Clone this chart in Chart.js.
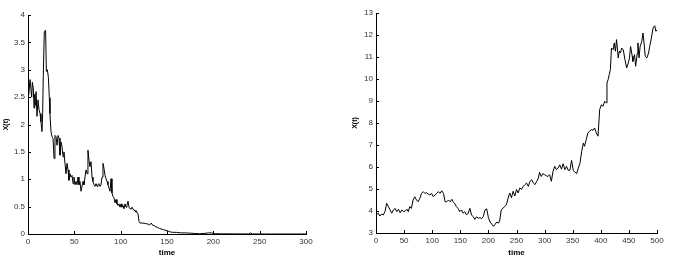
<!DOCTYPE html>
<html>
<head>
<meta charset="utf-8">
<script src="https://cdn.jsdelivr.net/npm/chart.js@4"></script>
<style>
    body { margin: 0; background: #fff; width: 679px; height: 274px; position: relative; overflow: hidden; }
    canvas { position: absolute; top: 0; }
    #leftChart { left: 0; }
    #rightChart { left: 340px; }
</style>
</head>
<body>
<canvas id="leftChart" width="330" height="274"></canvas>
<canvas id="rightChart" width="339" height="274"></canvas>
<script>
// Left panel: decaying path
const leftTime = [
    0, 0.7, 2.2, 4, 4.7, 5.8, 6.5, 7.2, 8.3, 8.6,
    9.7, 10.8, 11.9, 13, 14, 15.1, 15.8, 16.5, 17.6, 19,
    19.8, 20.9, 22, 23, 23.7, 24.8, 25.9, 27, 28.1, 29.1,
    30.2, 31.3, 32.4, 33.5, 34.5, 35.6, 36.7, 37.8, 38.8, 39.9,
    41, 42.1, 43.2, 44.2, 45.3, 46.4, 47.5, 48.6, 49.6, 50.7,
    51.8, 52.9, 54, 55, 56.1, 57.2, 58.3, 59.4, 60.4, 61.5,
    62.6, 63.7, 64.7, 65.8, 66.9, 68, 69.1, 70.1, 71.2, 72.3,
    73.4, 74.5, 75.5, 76.6, 77.7, 78.8, 79.9, 80.9, 82, 83.1,
    84.2, 85.3, 86.3, 87.4, 88.5, 89.6, 90.6, 91.7, 92.8, 93.9,
    95, 96, 97.1, 98.2, 99.3, 100.4, 101.4, 102.5, 103.6, 104.7,
    105.8, 106.8, 107.9, 109, 110.1, 111.2, 112.2, 113.3, 114.4, 115.5,
    116.5, 117.6, 118.7, 119.8, 120.9, 124, 127, 130, 131, 133,
    135, 136, 138, 140, 142, 146, 150, 153, 156, 160,
    165, 170, 175, 180, 185, 190, 195, 198, 202, 210,
    220, 230, 238, 240, 242, 250, 300
];
const leftX = [
    2.7, 2.55, 2.82, 2.5, 2.77, 2.65, 2.3, 2.55, 2.35, 2.6,
    2.15, 2.45, 2.27, 2.2, 2.05, 1.87, 2.2, 2.9, 3.7, 3.72,
    2.97, 3.0, 2.86, 2.49, 2.2, 1.87, 1.78, 1.75, 1.38, 1.8,
    1.78, 1.62, 1.8, 1.75, 1.44, 1.68, 1.6, 1.41, 1.5, 1.29,
    1.1, 1.29, 1.17, 0.98, 1.1, 1.04, 1.07, 0.92, 1.04, 0.9,
    0.96, 0.9, 1.04, 0.9, 0.96, 0.78, 0.87, 0.96, 0.9, 1.04,
    1.17, 1.1, 1.53, 1.35, 1.23, 1.32, 1.04, 0.96, 0.9, 0.87,
    0.92, 0.87, 0.9, 0.92, 0.87, 0.9, 1.04, 1.29, 1.2, 1.07,
    1.01, 0.96, 0.9, 0.84, 0.78, 1.01, 0.75, 0.69, 0.66, 0.57,
    0.63, 0.55, 0.52, 0.55, 0.49, 0.55, 0.49, 0.52, 0.46, 0.55,
    0.49, 0.52, 0.6, 0.49, 0.46, 0.46, 0.49, 0.46, 0.43, 0.43,
    0.4, 0.4, 0.37, 0.23, 0.2, 0.2, 0.19, 0.18, 0.16, 0.2,
    0.15, 0.16, 0.13, 0.12, 0.1, 0.08, 0.06, 0.04, 0.03, 0.03,
    0.02, 0.02, 0.015, 0.01, 0.005, 0.01, 0.02, 0.02, 0.005, 0.003,
    0.002, 0.001, 0.001, 0.02, 0.001, 0, 0
];
const leftXTicks = [0, 50, 100, 150, 200, 250, 300];
const leftYTicks = [0, 0.5, 1, 1.5, 2, 2.5, 3, 3.5, 4];

// Right panel: growing path
const rightTime = [
    0, 4, 7, 10, 13, 16, 19, 22, 25, 28,
    31, 34, 37, 40, 43, 46, 49, 52, 55, 57.5,
    60, 63, 66, 69, 72, 75, 78, 81, 84, 87,
    90, 93, 96, 99, 102, 105, 108, 111, 114, 117,
    120, 123, 126, 129, 132, 135, 137, 140, 143, 146,
    149, 152, 155, 158, 161, 164, 167, 170, 173, 176,
    179, 182, 185, 188, 191, 194, 197, 200, 203, 206,
    209, 212, 215, 218, 220, 223, 226, 229, 232, 235,
    238, 241, 244, 247, 250, 253, 256, 259, 262, 265,
    268, 271, 274, 277, 280, 283, 286, 289, 291, 294,
    297, 300, 303, 306, 309, 312, 315, 318, 321, 324,
    327, 330, 333, 336, 339, 342, 345, 348, 351, 354,
    357, 360, 363, 366, 369, 371, 374, 377, 380, 383,
    386, 389, 392, 395, 398, 401, 404, 407, 410, 411,
    413, 415, 417, 419, 422, 424, 426, 428, 431, 433,
    435, 437, 440, 443, 446, 449, 451, 453, 456, 457,
    460, 462, 465, 466, 468, 470, 473, 475, 477, 479,
    482, 485, 487, 490, 493, 496, 498, 500
];
const rightX = [
    3.82, 3.9, 3.77, 3.86, 3.82, 3.97, 4.35, 4.2, 4.05, 3.9,
    4.05, 4.12, 3.97, 4.08, 3.92, 4.05, 3.97, 4.0, 4.08, 3.97,
    4.2, 4.12, 4.5, 4.65, 4.5, 4.42, 4.58, 4.8, 4.88, 4.8,
    4.83, 4.77, 4.73, 4.8, 4.65, 4.73, 4.8, 4.88, 4.8, 4.92,
    4.8, 4.42, 4.42, 4.5, 4.42, 4.53, 4.42, 4.35, 4.2, 4.12,
    3.97, 4.05, 3.9, 3.97, 3.82, 3.9, 4.12, 3.82, 3.74, 3.62,
    3.74, 3.67, 3.7, 3.65, 3.75, 4.05, 4.1, 3.7, 3.5, 3.4,
    3.3, 3.4, 3.5, 3.45, 3.55, 4.06, 4.13, 4.2, 4.28, 4.58,
    4.82, 4.6, 4.9, 4.68, 4.98, 4.82, 5.05, 4.98, 5.12, 5.2,
    5.27, 5.12, 5.35, 5.42, 5.27, 5.2, 5.35, 5.5, 5.76, 5.57,
    5.7, 5.65, 5.6, 5.57, 5.65, 5.35, 5.8, 6.03, 5.88, 5.95,
    6.1, 5.9, 6.15, 5.88, 6.03, 5.85, 5.85, 6.3, 5.85, 5.76,
    5.7, 5.95, 6.18, 6.71, 7.09, 6.94, 7.24, 7.55, 7.62, 7.7,
    7.67, 7.77, 7.55, 7.4, 8.61, 8.83, 8.76, 8.99, 8.91, 9.82,
    9.97, 10.2, 10.42, 11.41, 11.33, 11.64, 11.26, 11.79, 10.96, 11.26,
    11.18, 11.41, 11.33, 10.88, 10.5, 10.73, 10.96, 11.48, 11.03, 10.8,
    11.11, 10.58, 11.18, 11.64, 10.96, 11.48, 11.71, 12.09, 11.64, 11.03,
    10.96, 11.18, 11.48, 11.86, 12.32, 12.42, 12.17, 12.24
];
const rightXTicks = [0, 50, 100, 150, 200, 250, 300, 350, 400, 450, 500];
const rightYTicks = [3, 4, 5, 6, 7, 8, 9, 10, 11, 12, 13];

// MATLAB style ticks pointing into the plot
const inwardTicks = {
    id: 'inwardTicks',
    afterDraw(chart) {
        const ctx = chart.ctx;
        const area = chart.chartArea;
        const xs = chart.scales.x;
        const ys = chart.scales.y;
        ctx.save();
        ctx.strokeStyle = '#000';
        ctx.lineWidth = 1;
        ctx.beginPath();
        xs.ticks.forEach(function(t) {
            const px = Math.round(xs.getPixelForValue(t.value)) + 0.5;
            ctx.moveTo(px, area.bottom);
            ctx.lineTo(px, area.bottom - 3);
        });
        ys.ticks.forEach(function(t) {
            const py = Math.round(ys.getPixelForValue(t.value)) + 0.5;
            ctx.moveTo(area.left, py);
            ctx.lineTo(area.left + 3, py);
        });
        ctx.stroke();
        ctx.restore();
    }
};

function makeChart(id, times, values, xTicks, yTicks, box) {
    const points = times.map(function(t, i) { return { x: t, y: values[i] }; });
    return new Chart(document.getElementById(id), {
        type: 'line',
        data: {
            datasets: [{
                data: points,
                borderColor: '#000',
                borderWidth: 1,
                pointRadius: 0,
                tension: 0,
                fill: false
            }]
        },
        options: {
            responsive: false,
            animation: false,
            layout: { padding: { left: 0, top: box.top, right: box.right, bottom: 0 } },
            plugins: { legend: { display: false }, tooltip: { enabled: false } },
            scales: {
                x: {
                    type: 'linear',
                    min: xTicks[0],
                    max: xTicks[xTicks.length - 1],
                    afterBuildTicks: function(s) { s.ticks = xTicks.map(function(v) { return { value: v }; }); },
                    afterFit: function(s) { s.height = box.xHeight; },
                    grid: { display: false, drawTicks: false, tickLength: 0 },
                    border: { display: true, color: '#000', width: 1 },
                    ticks: {
                        padding: 3,
                        color: '#333',
                        font: { family: 'Liberation Sans, Arial, sans-serif', size: 8 },
                        maxRotation: 0,
                        autoSkip: false,
                        callback: function(v) { return String(v); }
                    },
                    title: {
                        display: true,
                        text: 'time',
                        color: '#000',
                        font: { family: 'Liberation Sans, Arial, sans-serif', size: 8, weight: 'bold' },
                        padding: { top: 0, bottom: 16 }
                    }
                },
                y: {
                    type: 'linear',
                    min: yTicks[0],
                    max: yTicks[yTicks.length - 1],
                    afterBuildTicks: function(s) { s.ticks = yTicks.map(function(v) { return { value: v }; }); },
                    afterFit: function(s) { s.width = box.yWidth; },
                    grid: { display: false, drawTicks: false, tickLength: 0 },
                    border: { display: true, color: '#000', width: 1 },
                    ticks: {
                        padding: 3,
                        color: '#333',
                        font: { family: 'Liberation Sans, Arial, sans-serif', size: 8 },
                        autoSkip: false,
                        callback: function(v) { return String(v); }
                    },
                    title: {
                        display: true,
                        text: 'X(t)',
                        color: '#000',
                        font: { family: 'Liberation Sans, Arial, sans-serif', size: 7, weight: 'bold' },
                        padding: { top: box.titlePad, bottom: 0 }
                    }
                }
            }
        },
        plugins: [inwardTicks]
    });
}

makeChart('leftChart', leftTime, leftX, leftXTicks, leftYTicks,
    { top: 15, right: 24, xHeight: 40, yWidth: 28, titlePad: 2 });
makeChart('rightChart', rightTime, rightX, rightXTicks, rightYTicks,
    { top: 13, right: 22, xHeight: 41, yWidth: 36, titlePad: 11 });
</script>
</body>
</html>
